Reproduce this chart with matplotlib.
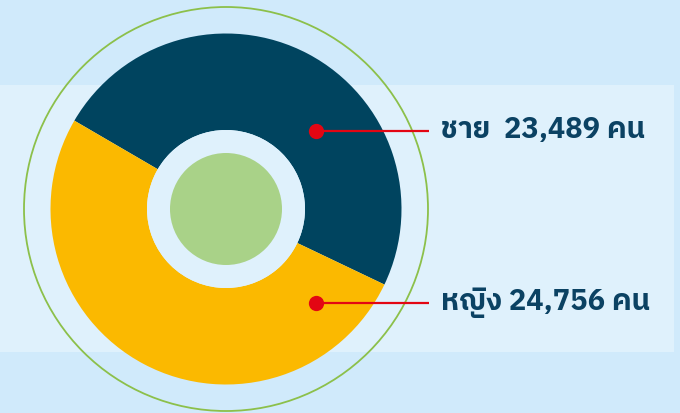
import matplotlib
matplotlib.use("Agg")
import matplotlib.pyplot as plt
from matplotlib import font_manager
from matplotlib.ft2font import FT2Font
from matplotlib.patches import Circle, Rectangle

# ---- data ----
categories = ["ชาย", "หญิง"]
values = [23489, 24756]
labels = ["ชาย  23,489 คน", "หญิง 24,756 คน"]
colors = ["#00445f", "#fbb900"]

# ---- find a font that has Thai glyphs ----
thai_family = None
for f in font_manager.fontManager.ttflist:
    try:
        cm = FT2Font(f.fname).get_charmap()
        if 0x0E0A in cm and 0x0E0D in cm:
            if thai_family is None or "Bold" in f.name or f.weight in ("bold", 700):
                thai_family = f.name
                if "Thai" in f.name:
                    break
    except Exception:
        pass
families = ([thai_family] if thai_family else []) + ["DejaVu Sans"]

W, H = 680, 413
fig = plt.figure(figsize=(W / 100, H / 100), dpi=100)
fig.patch.set_facecolor("#d0eafb")
ax = fig.add_axes([0, 0, 1, 1])
ax.set_xlim(0, W)
ax.set_ylim(H, 0)
ax.set_aspect("equal")
ax.axis("off")

# lighter horizontal band
ax.add_patch(Rectangle((0, 85), 674, 267, facecolor="#dff1fc", edgecolor="none", zorder=0))

cx, cy = 226, 209
# thin green outline circle
ax.add_patch(Circle((cx, cy), 202, facecolor="none", edgecolor="#8cc04a", lw=1.3, zorder=1))

# donut via pie in an inset axes
R = 175.5
pax = fig.add_axes([(cx - R) / W, 1 - (cy + R) / H, 2 * R / W, 2 * R / H])
pax.pie(values, colors=colors, startangle=-25.5, counterclock=True,
        radius=1.0, wedgeprops=dict(width=1 - 79 / R, edgecolor="none"))
pax.set_xlim(-1, 1)
pax.set_ylim(-1, 1)
pax.set_aspect("equal")
pax.axis("off")
pax.add_patch(Circle((0, 0), 79 / R, facecolor="#dff1fc", edgecolor="none"))
pax.add_patch(Circle((0, 0), 56 / R, facecolor="#a9d288", edgecolor="none"))

# annotation lines, dots, labels (overlay axes)
oax = fig.add_axes([0, 0, 1, 1])
oax.set_xlim(0, W)
oax.set_ylim(H, 0)
oax.axis("off")
oax.patch.set_alpha(0)
label_y = [130.5, 302.5]
for ly, txt in zip(label_y, labels):
    oax.plot([316, 429], [ly, ly], color="#e30613", lw=1.6, solid_capstyle="butt")
    oax.plot([316], [ly], marker="o", ms=11, color="#e30613", mec="none")
    oax.text(441, ly, txt, fontsize=21, fontweight="bold", color="#0b4263",
             va="center", ha="left", family=families)

fig.savefig("out.png", dpi=100, facecolor=fig.get_facecolor())
